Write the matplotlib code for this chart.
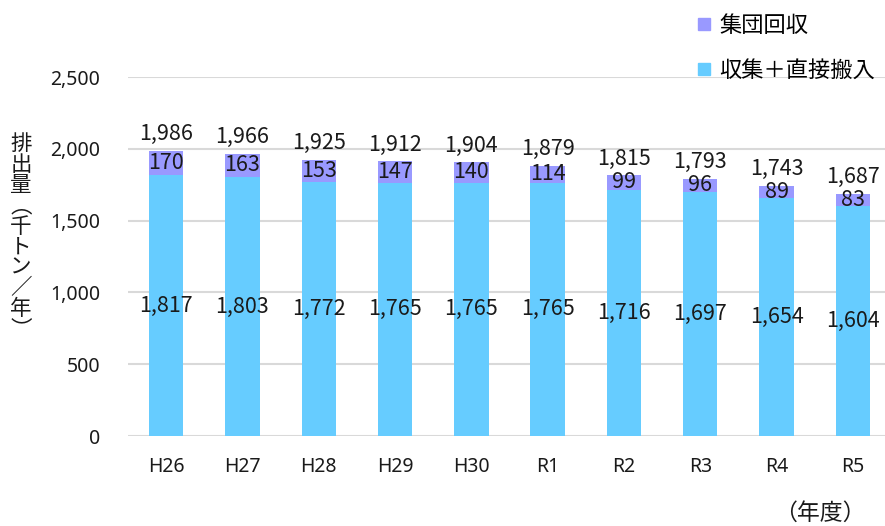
import matplotlib
matplotlib.use("Agg")
import matplotlib.pyplot as plt
from matplotlib.lines import Line2D

plt.rcParams['font.family'] = ['Noto Sans CJK JP', 'DejaVu Sans']

years = ["H26", "H27", "H28", "H29", "H30", "R1", "R2", "R3", "R4", "R5"]
collect_direct = [1817, 1803, 1772, 1765, 1765, 1765, 1716, 1697, 1654, 1604]
group = [170, 163, 153, 147, 140, 114, 99, 96, 89, 83]
totals = [1986, 1966, 1925, 1912, 1904, 1879, 1815, 1793, 1743, 1687]
yticks = [0, 500, 1000, 1500, 2000, 2500]

c_cyan = "#66CCFF"
c_purple = "#9999FF"

W, H = 885, 526
fig = plt.figure(figsize=(W / 100, H / 100), dpi=100)
ax = fig.add_axes([128 / W, 1 - 436 / H, 1 - 128 / W, (436 - 77) / H])

x = list(range(len(years)))
bw = 0.45
ax.bar(x, collect_direct, width=bw, color=c_cyan, zorder=3)
ax.bar(x, group, width=bw, bottom=collect_direct, color=c_purple, zorder=3)

lab_fs = 15.5
for i in x:
    ax.text(i, collect_direct[i] / 2, f"{collect_direct[i]:,}", ha="center", va="center",
            fontsize=lab_fs, color="#1a1a1a", zorder=4)
    ax.text(i, collect_direct[i] + group[i] / 2, f"{group[i]:,}", ha="center", va="center",
            fontsize=lab_fs, color="#1a1a1a", zorder=4)
    ax.text(i, totals[i] + 40, f"{totals[i]:,}", ha="center", va="bottom",
            fontsize=lab_fs, color="#1a1a1a", zorder=4)

ax.set_xlim(-0.5, 9.5 - 6 / 76.3)
ax.set_ylim(0, 2500)
ax.set_yticks(yticks)
ax.set_yticklabels([f"{v:,}" for v in yticks], fontfamily=["Noto Sans", "DejaVu Sans"])
ax.set_xticks(x)
ax.set_xticklabels(years, fontfamily=["Noto Sans", "DejaVu Sans"])
ax.tick_params(axis="y", length=0, pad=20, labelsize=14, labelcolor="#1a1a1a")
ax.tick_params(axis="x", length=0, pad=15, labelsize=14, labelcolor="#1a1a1a")
ax.grid(axis="y", color="#d9d9d9", linewidth=1.5, zorder=0)
ax.set_axisbelow(True)
for s in ax.spines.values():
    s.set_visible(False)

ylabel = "排出量︵千トン／年︶"
fig.text(21 / W, 1 - 237 / H, "\n".join(ylabel), ha="center", va="center",
         fontsize=15.5, linespacing=0.92, color="#1a1a1a")

handles = [
    Line2D([], [], marker="s", linestyle="none", markersize=9, color=c_purple),
    Line2D([], [], marker="s", linestyle="none", markersize=9, color=c_cyan),
]
leg = fig.legend(handles, ["集団回収", "収集＋直接搬入"], loc="upper left",
                 bbox_to_anchor=(694 / W, 1 - 14 / H), frameon=False, fontsize=16,
                 labelspacing=1.0, handletextpad=0.25, handlelength=0.9,
                 borderaxespad=0, borderpad=0)

fig.text(866 / W, 1 - 513 / H, "（年度）", ha="right", va="center", fontsize=16.5, color="#1a1a1a")

fig.savefig("out.png", dpi=100)
